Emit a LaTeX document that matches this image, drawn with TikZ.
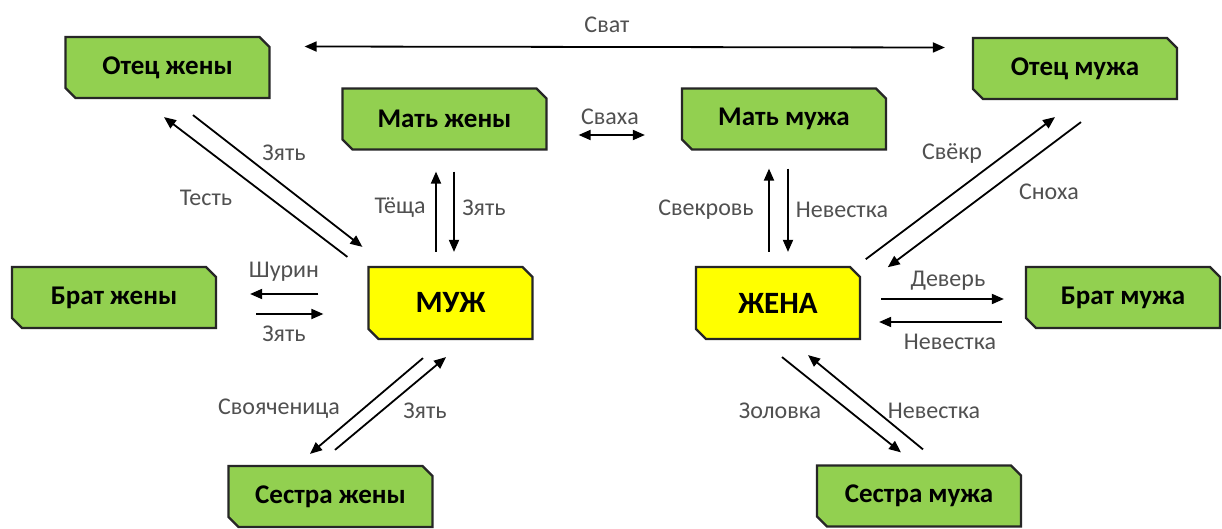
\documentclass[tikz,border=0pt]{standalone}
\usepackage{fontspec}
\setmainfont{Carlito}
\usetikzlibrary{shapes.misc,arrows.meta}
\definecolor{zelen}{RGB}{146,208,80}
\definecolor{zhelt}{RGB}{255,255,0}
\definecolor{podpis}{RGB}{80,80,80}
\tikzset{
  rodnya/.style={chamfered rectangle,chamfered rectangle corners={north east,south west},
    chamfered rectangle xsep=2.5pt,chamfered rectangle ysep=2.5pt,
    draw=black!85,line width=1.1pt,fill=zelen,font=\fontsize{13.5}{15}\selectfont\bfseries,
    minimum width=102pt,minimum height=30.5pt,inner sep=0pt},
  suprug/.style={rodnya,fill=zhelt,minimum width=82pt,minimum height=36pt,
    font=\fontsize{15.5}{17}\selectfont\bfseries},
  strelka/.style={line width=0.9pt,-{Triangle[length=6pt,width=5pt]}},
  dvoina/.style={line width=0.9pt,{Triangle[length=6pt,width=5pt]}-{Triangle[length=6pt,width=5pt]}},
  metka/.style={text=podpis,font=\fontsize{12}{14}\selectfont,inner sep=0pt}
}
\begin{document}
\begin{tikzpicture}[x=0.5pt,y=-0.5pt]
\useasboundingbox[fill=white] (0,0) rectangle (1222,529);
\node[rodnya] (otecz) at (167.5,67.5) {Отец жены};
\node[rodnya] (matz) at (444.5,119) {Мать жены};
\node[rodnya] (matm) at (784,119) {Мать мужа};
\node[rodnya] (otecm) at (1075,68.5) {Отец мужа};
\node[rodnya] (bratz) at (114,297.5) {Брат жены};
\node[suprug] (muzh) at (450.5,303) {МУЖ};
\node[suprug] (zhena) at (778,303) {ЖЕНА};
\node[rodnya,minimum width=97pt] (bratm) at (1123,297.5) {Брат мужа};
\node[rodnya] (sestz) at (330.5,496.5) {Сестра жены};
\node[rodnya] (sestm) at (919,496) {Сестра мужа};

\draw[dvoina] ([shift={(34,-21)}]otecz.east) -- ([shift={(-27,-21)}]otecm.west);
\draw[dvoina] ([shift={(31,16)}]matz.east) -- ([shift={(-36,16)}]matm.west);

\draw[strelka] ([shift={(-20,-9)}]muzh.north west) -- ([shift={(-3.5,18)}]otecz.south);
\draw[strelka] ([shift={(25.5,16)}]otecz.south) -- ([shift={(-5,-19)}]muzh.north west);
\draw[strelka] ([shift={(-14.5,-14)}]muzh.north) -- ([shift={(-8.5,21)}]matz.south);
\draw[strelka] ([shift={(9.5,21)}]matz.south) -- ([shift={(3.5,-14)}]muzh.north);
\draw[strelka] ([shift={(-9,-14)}]zhena.north) -- ([shift={(-15,18)}]matm.south);
\draw[strelka] ([shift={(4,18)}]matm.south) -- ([shift={(10,-14)}]zhena.north);
\draw[strelka] ([shift={(10,-12)}]zhena.north east) -- ([shift={(-20,17)}]otecm.south);
\draw[strelka] ([shift={(6,22)}]otecm.south) -- ([shift={(32,-4)}]zhena.north east);
\draw[strelka] ([shift={(-49,-9)}]muzh.west) -- ([shift={(33,-3.5)}]bratz.east);
\draw[strelka] ([shift={(39,16.5)}]bratz.east) -- ([shift={(-44,11)}]muzh.west);
\draw[strelka] ([shift={(-27.5,18)}]muzh.south) -- ([shift={(-20.5,-11)}]sestz.north);
\draw[strelka] ([shift={(4.5,-15)}]sestz.north) -- ([shift={(-4.5,17)}]muzh.south);
\draw[strelka] ([shift={(20,-4)}]zhena.east) -- ([shift={(-21,1.5)}]bratm.west);
\draw[strelka] ([shift={(-23,24.5)}]bratm.west) -- ([shift={(18,19)}]zhena.east);
\draw[strelka] ([shift={(4,17)}]zhena.south) -- ([shift={(-18,-12)}]sestm.north);
\draw[strelka] ([shift={(4,-15)}]sestm.north) -- ([shift={(30,15)}]zhena.south);

\node[metka] (lsvat) at (607,25) {Сват};
\node[metka] (lsvaha) at (610,117) {Сваха};
\node[metka] (lzyat1) at (284,153) {Зять};
\node[metka] (ltest) at (206,198) {Тесть};
\node[metka] (lteshcha) at (400,208) {Тёща};
\node[metka] (lzyat2) at (484,208) {Зять};
\node[metka] (lsvekrov) at (706,210) {Свекровь};
\node[metka] (lnev1) at (842,210) {Невестка};
\node[metka] (lsvekr) at (952,153) {Свёкр};
\node[metka] (lsnoha) at (1049,192) {Сноха};
\node[metka] (lshurin) at (284,272) {Шурин};
\node[metka] (lzyat3) at (284,334) {Зять};
\node[metka] (lsvoya) at (279,409) {Свояченица};
\node[metka] (lzyat4) at (425,411) {Зять};
\node[metka] (ldever) at (948,281) {Деверь};
\node[metka] (lnev2) at (950,342) {Невестка};
\node[metka] (lzolovka) at (780,411) {Золовка};
\node[metka] (lnev3) at (934,411) {Невестка};
\end{tikzpicture}
\end{document}
